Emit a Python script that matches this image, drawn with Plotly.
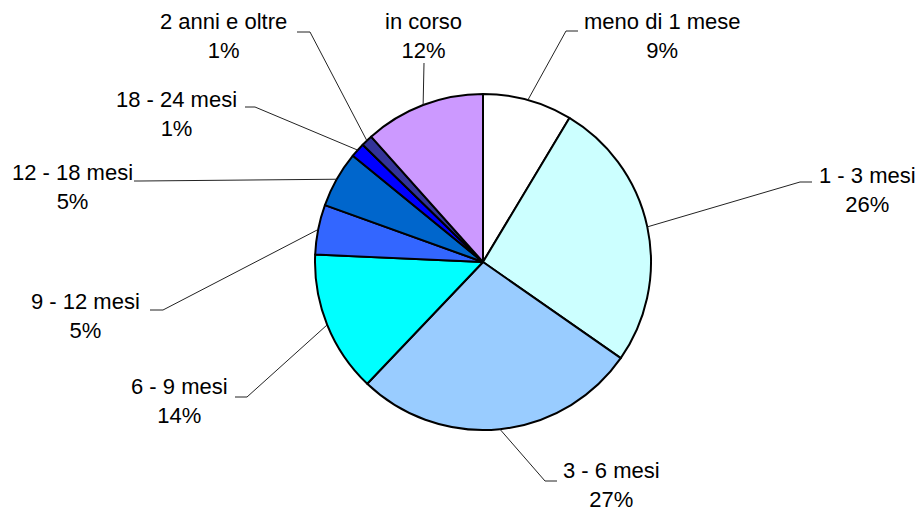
import math
import plotly.graph_objects as go

# ---- data ----
labels = ["meno di 1 mese", "1 - 3 mesi", "3 - 6 mesi", "6 - 9 mesi", "9 - 12 mesi",
          "12 - 18 mesi", "18 - 24 mesi", "2 anni e oltre", "in corso"]
values = [8.6, 26.1, 27.4, 13.6, 4.8, 5.4, 1.4, 1.1, 11.6]

# ---- styles ----
colors = ["#FFFFFF", "#CCFFFF", "#99CCFF", "#00FFFF", "#3366FF",
          "#0066CC", "#0000FF", "#333399", "#CC99FF"]

W, H = 921, 513
CX, CY, R = 483, 262, 168

# label layout in pixels: text centre (x, y), leader end at label (x, y), stub other end x
label_pos = [(662, 36), (867, 190), (611, 485), (179, 401), (85, 316),
             (72, 187), (176, 114), (223, 36), (423, 36)]
leader_end = [(566, 31), (800, 182), (545, 481), (247, 397), (163, 310),
              (140, 181), (255, 107), (310, 32), (424, 63)]
stub_x = [578, 812, 557, 235, 150, 134, 245, 297, 424]
FONT = "Liberation Sans, Arial, sans-serif"
FS = 22


def px(x):
    return x / W


def py(y):
    return 1 - y / H


fig = go.Figure()
fig.add_trace(go.Pie(
    labels=labels, values=values, sort=False, direction="clockwise", rotation=0,
    marker=dict(colors=colors, line=dict(color="black", width=2)),
    textinfo="none", hoverinfo="label+percent", showlegend=False,
    domain=dict(x=[px(CX - R), px(CX + R)], y=[py(CY + R), py(CY - R)]),
))

total = sum(values)
cum = 0.0
annotations = []
shapes = []
for i, (lab, v) in enumerate(zip(labels, values)):
    mid = (cum + v / 2) / total * 2 * math.pi
    cum += v
    ex = CX + R * math.sin(mid)
    ey = CY - R * math.cos(mid)
    lx, ly = leader_end[i]
    shapes.append(dict(type="line", xref="paper", yref="paper",
                       x0=px(ex), y0=py(ey), x1=px(lx), y1=py(ly),
                       line=dict(color="#222222", width=1)))
    if stub_x[i] != lx:
        shapes.append(dict(type="line", xref="paper", yref="paper",
                           x0=px(lx), y0=py(ly), x1=px(stub_x[i]), y1=py(ly),
                           line=dict(color="#222222", width=1)))
    pct = round(v / total * 100)
    tx, ty = label_pos[i]
    annotations.append(dict(text=f"{lab}<br>{pct}%", x=px(tx), y=py(ty),
                            xref="paper", yref="paper", xanchor="center", yanchor="middle",
                            showarrow=False, align="center",
                            font=dict(family=FONT, size=FS, color="black")))

fig.update_layout(
    width=W, height=H, margin=dict(l=0, r=0, t=0, b=0),
    paper_bgcolor="white", plot_bgcolor="white",
    annotations=annotations, shapes=shapes,
)

fig.write_html("out.html", config={"displayModeBar": False},
               post_script="document.body.style.margin='0';document.body.style.overflow='hidden';")
